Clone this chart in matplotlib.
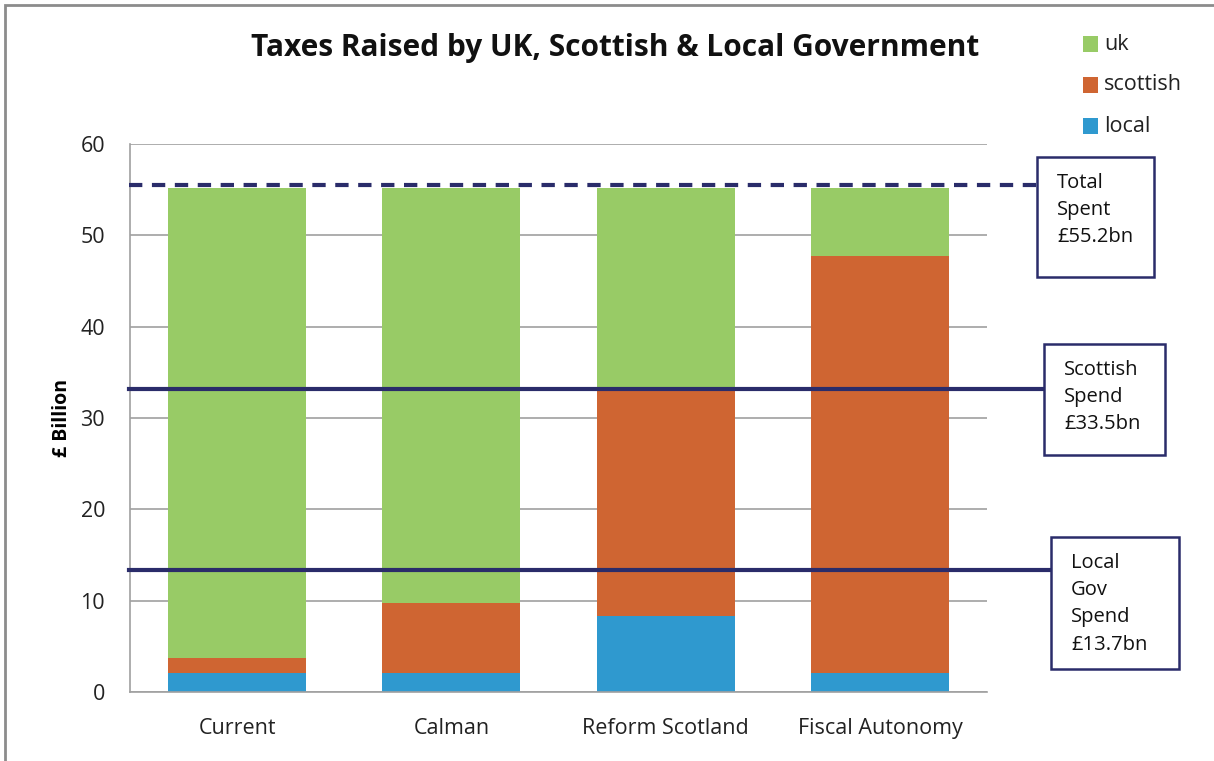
import numpy as np
import matplotlib
matplotlib.use('Agg')
import matplotlib.pyplot as plt
from matplotlib.patches import Rectangle

categories = ['Current', 'Calman', 'Reform Scotland', 'Fiscal Autonomy']
local = [2.1, 2.1, 8.3, 2.1]
scottish = [1.6, 7.6, 24.9, 45.6]
total = 55.2
uk = [total - l - s for l, s in zip(local, scottish)]

total_spent = 55.5
scottish_spend = 33.2
local_spend = 13.4
box_texts = ['Total\nSpent\n£55.2bn', 'Scottish\nSpend\n£33.5bn', 'Local\nGov\nSpend\n£13.7bn']

plt.rcParams['font.family'] = ['Open Sans', 'DejaVu Sans']

c_uk = '#98CB66'
c_sc = '#CF6532'
c_lo = '#2F99CF'
navy = '#2A2C6A'

W, H = 1214, 761
fig = plt.figure(figsize=(W / 100, H / 100), dpi=100)
ax = fig.add_axes([130 / W, 1 - 692 / H, 857 / W, 548 / H])

x = np.arange(len(categories))
bw = 0.645
ax.bar(x, local, bw, color=c_lo, label='local', zorder=2)
ax.bar(x, scottish, bw, bottom=local, color=c_sc, label='scottish', zorder=2)
ax.bar(x, uk, bw, bottom=np.add(local, scottish), color=c_uk, label='uk', zorder=2)

ax.set_xlim(-0.5, 3.5)
ax.set_ylim(0, 60)
ax.set_yticks(range(0, 61, 10))
ax.yaxis.grid(True, color='#A0A0A0', lw=1.2, zorder=0)
ax.set_axisbelow(True)
for s in ['top', 'right']:
    ax.spines[s].set_visible(False)
ax.spines['left'].set_color('#A0A0A0')
ax.spines['bottom'].set_color('#A0A0A0')
ax.spines['left'].set_linewidth(1.2)
ax.spines['bottom'].set_linewidth(1.2)
ax.tick_params(axis='both', length=0, labelsize=15.5, colors='#222222')
ax.tick_params(axis='y', pad=18)
ax.tick_params(axis='x', pad=19)
ax.set_xticks(x)
ax.set_xticklabels(categories)
ax.set_ylabel('£ Billion', fontsize=14, fontweight='bold', labelpad=6)

# reference lines running out past the plot area
ax.axhline(total_spent, xmin=-0.001, xmax=1.058, color=navy, lw=3, ls=(0, (3.2, 2.3)), clip_on=False, zorder=3)
ax.axhline(scottish_spend, xmin=-0.001, xmax=1.068, color=navy, lw=3, clip_on=False, zorder=3)
ax.axhline(local_spend, xmin=-0.001, xmax=1.074, color=navy, lw=3, clip_on=False, zorder=3)

# boxes with labels (pixel positions)
boxes = [(1037, 157, 117, 120), (1044, 344, 121, 111), (1051, 537, 128, 132)]
for (bx, by, bwid, bh), txt in zip(boxes, box_texts):
    fig.patches.append(Rectangle((bx / W, 1 - (by + bh) / H), bwid / W, bh / H,
                                 transform=fig.transFigure, fill=True, facecolor='white',
                                 edgecolor=navy, lw=1.8, zorder=5))
    fig.text((bx + 20) / W, 1 - (by + 16) / H, txt, ha='left', va='top', fontsize=14.5,
             linespacing=1.48, color='#111111', zorder=6)

fig.text(615 / W, 1 - 48 / H, 'Taxes Raised by UK, Scottish & Local Government',
         ha='center', va='center', fontsize=21.5, fontweight='bold', color='#111111')

# legend
leg_items = [('uk', c_uk, 44), ('scottish', c_sc, 85), ('local', c_lo, 126)]
for lab, col, ly in leg_items:
    fig.patches.append(Rectangle((1083 / W, 1 - (ly + 8) / H), 15 / W, 16 / H,
                                 transform=fig.transFigure, facecolor=col, edgecolor='none'))
    fig.text(1104 / W, 1 - ly / H, lab, ha='left', va='center', fontsize=15.5, color='#222222')

# outer frame
fig.patches.append(Rectangle((5 / W, -0.01), 1.02, 1 - 5 / H + 0.01, transform=fig.transFigure,
                             fill=False, edgecolor='#8C8C8C', lw=2))

fig.savefig('out.png', dpi=100)
